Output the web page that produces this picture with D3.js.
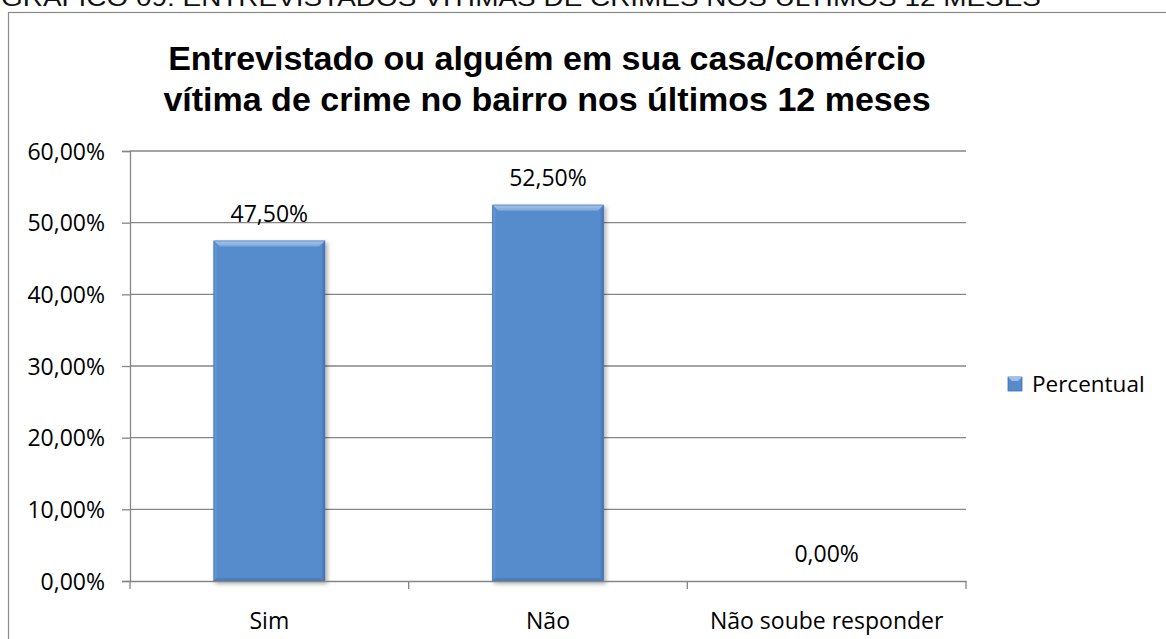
<!DOCTYPE html>
<html>
<head>
<meta charset="utf-8">
<script src="https://cdn.jsdelivr.net/npm/d3@7"></script>
<style>
  html, body { margin: 0; padding: 0; background: #fff; }
  svg { display: block; }
</style>
</head>
<body>
<script>
// Chart data
const categories = ["Sim", "Não", "Não soube responder"];
const values = [47.5, 52.5, 0.0];
const yTicks = [0, 10, 20, 30, 40, 50, 60];
const seriesName = "Percentual";
const headerText = "GRÁFICO 09: ENTREVISTADOS VÍTIMAS DE CRIMES NOS ÚLTIMOS 12 MESES";
const titleLines = ["Entrevistado ou alguém em sua casa/comércio", "vítima de crime no bairro nos últimos 12 meses"];

const W = 1166, H = 639;
const plot = { left: 130, right: 966, top: 151, bottom: 581 };
const fmt = v => v.toFixed(2).replace(".", ",") + "%";
const labelFont = "'Open Sans', 'Noto Sans', sans-serif";
const gridColor = "#868686";

const svg = d3.select("body").append("svg").attr("width", W).attr("height", H);

const defs = svg.append("defs");
const blur = defs.append("filter").attr("id", "shadow").attr("x", "-20%").attr("y", "-20%").attr("width", "140%").attr("height", "140%");
blur.append("feGaussianBlur").attr("stdDeviation", 2.2);

const topGrad = defs.append("linearGradient").attr("id", "bevelTop").attr("x1", 0).attr("y1", 0).attr("x2", 0).attr("y2", 1);
topGrad.append("stop").attr("offset", "0%").attr("stop-color", "#a9c8ee");
topGrad.append("stop").attr("offset", "100%").attr("stop-color", "#79a5dc");

// Page header line (partly above the visible area)
svg.append("text")
  .attr("x", 1).attr("y", 6)
  .attr("font-family", "'Liberation Sans', Arial, sans-serif")
  .attr("font-size", 24)
  .attr("textLength", 1040).attr("lengthAdjust", "spacingAndGlyphs")
  .attr("fill", "#111")
  .text(headerText);

// Chart frame
svg.append("rect")
  .attr("x", 8.5).attr("y", 12.5).attr("width", W).attr("height", H)
  .attr("fill", "#fff").attr("stroke", "#8a8a8a").attr("stroke-width", 1.2);

// Title
const title = svg.append("text")
  .attr("text-anchor", "middle")
  .attr("font-family", "'Liberation Sans', Arial, sans-serif")
  .attr("font-weight", "bold")
  .attr("font-size", 34)
  .attr("fill", "#000");
titleLines.forEach((t, i) => {
  title.append("tspan").attr("x", 547).attr("y", 70 + i * 41).text(t);
});

// Scales
const x = d3.scaleBand().domain(categories).range([plot.left, plot.right]).paddingInner(0).paddingOuter(0);
const y = d3.scaleLinear().domain([0, 60]).range([plot.bottom, plot.top]);
const barW = x.bandwidth() * 0.4;

// Gridlines
svg.append("g").selectAll("line").data(yTicks.filter(d => d > 0)).join("line")
  .attr("x1", plot.left).attr("x2", plot.right)
  .attr("y1", d => y(d)).attr("y2", d => y(d))
  .attr("stroke", gridColor).attr("stroke-width", 1.3);

// Y axis
const yAxis = svg.append("g").attr("transform", `translate(${plot.left},0)`)
  .call(d3.axisLeft(y).tickValues(yTicks).tickFormat(fmt).tickSize(8).tickPadding(17));
yAxis.select(".domain").attr("stroke", gridColor).attr("stroke-width", 1.3);
yAxis.selectAll(".tick line").attr("stroke", gridColor).attr("stroke-width", 1.3);
yAxis.selectAll(".tick text")
  .attr("font-family", labelFont).attr("font-size", 23).attr("fill", "#000")
  .attr("dy", "0.36em");

// Bars with bevelled edges
const bars = svg.append("g").selectAll("g").data(categories.map((c, i) => ({ c, v: values[i] }))).join("g");
bars.filter(d => d.v > 0).each(function (d) {
  const g = d3.select(this);
  const x0 = x(d.c) + (x.bandwidth() - barW) / 2, x1 = x0 + barW;
  const y0 = y(d.v), y1 = y(0);
  const b = 6;
  g.append("rect")
    .attr("x", x0 + 1.5).attr("y", y0 + 2).attr("width", barW + 1).attr("height", y1 - y0 + 1)
    .attr("fill", "#000").attr("opacity", 0.3).attr("filter", "url(#shadow)");
  g.append("rect")
    .attr("x", x0).attr("y", y0).attr("width", barW).attr("height", y1 - y0)
    .attr("fill", "#568BCC");
  const poly = pts => pts.map(p => p.join(",")).join(" ");
  g.append("polygon").attr("points", poly([[x0, y0], [x1, y0], [x1 - b, y0 + b], [x0 + b, y0 + b]]))
    .attr("fill", "url(#bevelTop)");
  g.append("polygon").attr("points", poly([[x0, y0], [x0 + 3, y0 + b], [x0 + 3, y1 - 3], [x0, y1]]))
    .attr("fill", "#6397d3");
  g.append("polygon").attr("points", poly([[x1, y0], [x1, y1], [x1 - 3, y1 - 3], [x1 - 3, y0 + b]]))
    .attr("fill", "#4b7dbd");
  g.append("polygon").attr("points", poly([[x0, y1], [x0 + 3, y1 - 3], [x1 - 3, y1 - 3], [x1, y1]]))
    .attr("fill", "#4c7ebe");
  g.append("rect")
    .attr("x", x0 + 0.5).attr("y", y0 + 0.5).attr("width", barW - 1).attr("height", y1 - y0 - 1)
    .attr("fill", "none").attr("stroke", "#3f6ea9").attr("stroke-width", 1).attr("opacity", 0.5);
});

// X axis
const xAxis = svg.append("g").attr("transform", `translate(0,${plot.bottom})`)
  .call(d3.axisBottom(x).tickSize(0).tickPadding(32));
xAxis.select(".domain").attr("stroke", gridColor).attr("stroke-width", 1.3);
xAxis.selectAll(".tick text")
  .attr("font-family", labelFont).attr("font-size", 23).attr("fill", "#000");
// Category boundary ticks
xAxis.append("g").selectAll("line")
  .data(categories.map(c => x(c)).concat([x(categories[categories.length - 1]) + x.bandwidth()]))
  .join("line")
  .attr("x1", d => d).attr("x2", d => d).attr("y1", 0).attr("y2", 8)
  .attr("stroke", gridColor).attr("stroke-width", 1.3);

// Value labels
svg.append("g").selectAll("text").data(categories.map((c, i) => ({ c, v: values[i] }))).join("text")
  .attr("x", d => x(d.c) + x.bandwidth() / 2)
  .attr("y", d => y(d.v) - 19)
  .attr("text-anchor", "middle")
  .attr("font-family", labelFont).attr("font-size", 23).attr("fill", "#000")
  .text(d => fmt(d.v));

// Legend
const legend = svg.append("g").attr("transform", "translate(1008,377)");
legend.append("rect").attr("width", 14).attr("height", 14).attr("fill", "#568BCC").attr("stroke", "#3f6ea9").attr("stroke-width", 0.8);
legend.append("polygon").attr("points", "0,0 14,0 10,4 4,4").attr("fill", "#9cc0ec");
legend.append("text").attr("x", 24).attr("y", 14.5)
  .attr("font-family", labelFont).attr("font-size", 22.5).attr("fill", "#000")
  .text(seriesName);
</script>
</body>
</html>
